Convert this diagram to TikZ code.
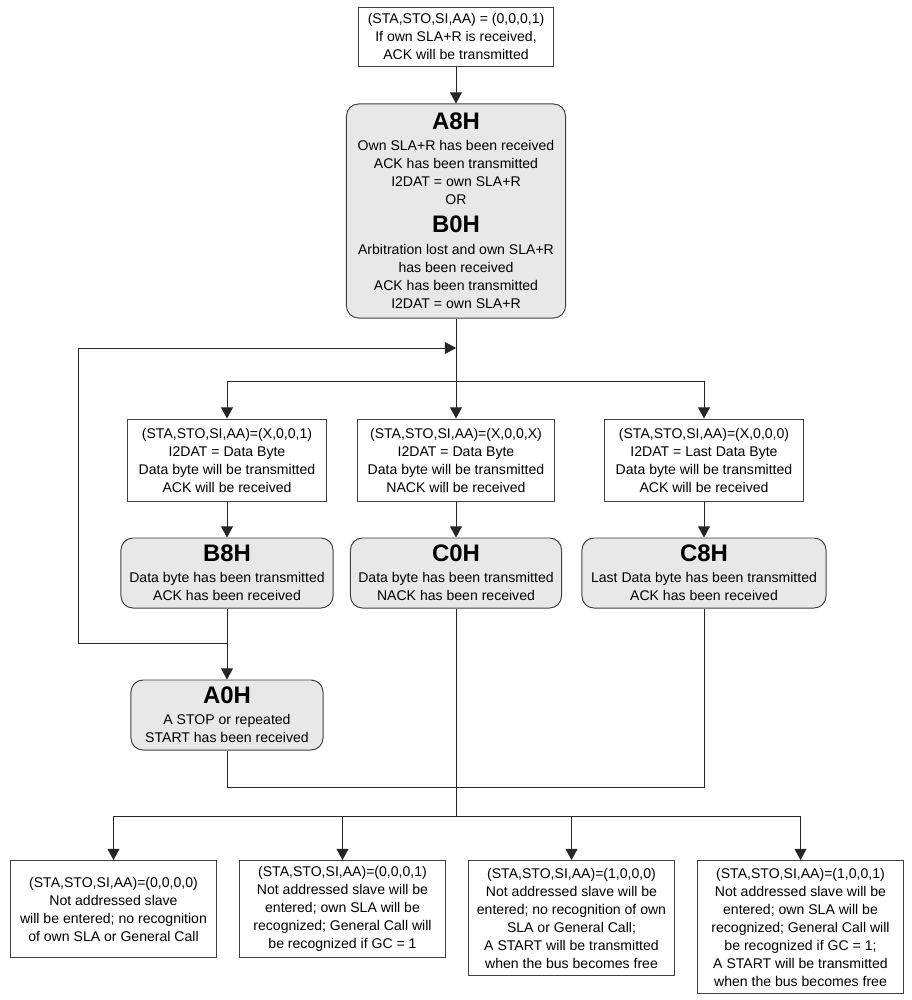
\documentclass[tikz,border=0pt]{standalone}
\usepackage{fontspec}
\setmainfont{Liberation Sans}
\usepackage{tikz}
\usetikzlibrary{arrows.meta,calc}

\tikzset{
  cond/.style={draw=black!75, line width=0.7pt, fill=white, align=center, inner sep=2pt},
  state/.style={draw=black!75, line width=0.7pt, fill=black!9, rounded corners=0.3cm, align=center, inner sep=2pt},
  flow/.style={draw=black!85, line width=0.7pt},
  arr/.style={flow, -{Triangle[length=0.28cm,width=0.3cm]}},
}
\newcommand{\hdr}[1]{{\fontsize{17}{19}\selectfont\bfseries #1}}

\begin{document}
\begin{tikzpicture}[x=0.025cm, y=-0.025cm, font=\fontsize{10}{12.8}\selectfont]
\useasboundingbox (0,0) rectangle (912,1000);

% Start condition
\node[cond, minimum width=4.85cm, minimum height=1.475cm] (start) at (456,36.5)
  {(STA,STO,SI,AA) = (0,0,0,1)\\If own SLA+R is received,\\ACK will be transmitted};

% A8H / B0H state
\node[state, minimum width=5.475cm, minimum height=5.35cm] (A8H) at (456,211)
  {\hdr{A8H}\\[2pt]Own SLA+R has been received\\ACK has been transmitted\\I2DAT = own SLA+R\\OR\\[7pt]\hdr{B0H}\\[3pt]Arbitration lost and own SLA+R\\has been received\\ACK has been transmitted\\I2DAT = own SLA+R};

% Data byte conditions
\node[cond, minimum width=4.95cm, minimum height=2.05cm] (ackbyte) at (227,460)
  {(STA,STO,SI,AA)=(X,0,0,1)\\I2DAT = Data Byte\\Data byte will be transmitted\\ACK will be received};
\node[cond, minimum width=4.9cm, minimum height=2.05cm] (nackbyte) at (456,460)
  {(STA,STO,SI,AA)=(X,0,0,X)\\I2DAT = Data Byte\\Data byte will be transmitted\\NACK will be received};
\node[cond, minimum width=4.95cm, minimum height=2.05cm] (lastbyte) at (704,460)
  {(STA,STO,SI,AA)=(X,0,0,0)\\I2DAT = Last Data Byte\\Data byte will be transmitted\\ACK will be received};

% B8H, C0H, C8H states
\node[state, minimum width=5.3cm, minimum height=1.75cm] (B8H) at (227,573)
  {\hdr{B8H}\\[2pt]Data byte has been transmitted\\ACK has been received};
\node[state, minimum width=5.275cm, minimum height=1.75cm] (C0H) at (456,573)
  {\hdr{C0H}\\[2pt]Data byte has been transmitted\\NACK has been received};
\node[state, minimum width=6.1cm, minimum height=1.75cm] (C8H) at (704,573)
  {\hdr{C8H}\\[2pt]Last Data byte has been transmitted\\ACK has been received};

% A0H state
\node[state, minimum width=4.8cm, minimum height=1.75cm] (A0H) at (227,715)
  {\hdr{A0H}\\[2pt]A STOP or repeated\\START has been received};

% Not addressed slave conditions
\node[cond, anchor=north, minimum width=5.125cm, minimum height=2.425cm] (nas0) at (113.5,860)
  {(STA,STO,SI,AA)=(0,0,0,0)\\Not addressed slave\\will be entered; no recognition\\of own SLA or General Call};
\node[cond, anchor=north, minimum width=5.125cm, minimum height=2.425cm] (nas1) at (342.5,860)
  {(STA,STO,SI,AA)=(0,0,0,1)\\Not addressed slave will be\\entered; own SLA will be\\recognized; General Call will\\be recognized if GC = 1};
\node[cond, anchor=north, minimum width=5.125cm, minimum height=2.875cm] (nas2) at (571.5,860)
  {(STA,STO,SI,AA)=(1,0,0,0)\\Not addressed slave will be\\entered; no recognition of own\\SLA or General Call;\\A START will be transmitted\\when the bus becomes free};
\node[cond, anchor=north, minimum width=5.125cm, minimum height=3.325cm] (nas3) at (800.5,860)
  {(STA,STO,SI,AA)=(1,0,0,1)\\Not addressed slave will be\\entered; own SLA will be\\recognized; General Call will\\be recognized if GC = 1;\\A START will be transmitted\\when the bus becomes free};

% Junctions
\coordinate (split) at (456,381);
\coordinate (loopin) at (456,348);
\coordinate (loopout) at (227,643);
\coordinate (corner) at (78,348);
\coordinate (merge) at (456,787);
\coordinate (fan) at (456,816);

% Connections
\draw[arr] (start) -- (A8H);
\draw[flow] (A8H) -- (split);
\draw[arr] (split) -- (nackbyte);
\draw[arr] (split) -| (ackbyte);
\draw[arr] (split) -| (lastbyte);
\draw[arr] (ackbyte) -- (B8H);
\draw[arr] (nackbyte) -- (C0H);
\draw[arr] (lastbyte) -- (C8H);
\draw[arr] (B8H) -- (A0H);
\draw[arr] (loopout) -| (corner) -- (loopin);
\draw[flow] (A0H.south) |- (merge) -| (C8H.south);
\draw[flow] (C0H) -- (fan);
\draw[arr] (fan) -| (nas0);
\draw[arr] (fan) -| (nas1);
\draw[arr] (fan) -| (nas2);
\draw[arr] (fan) -| (nas3);

\end{tikzpicture}
\end{document}
